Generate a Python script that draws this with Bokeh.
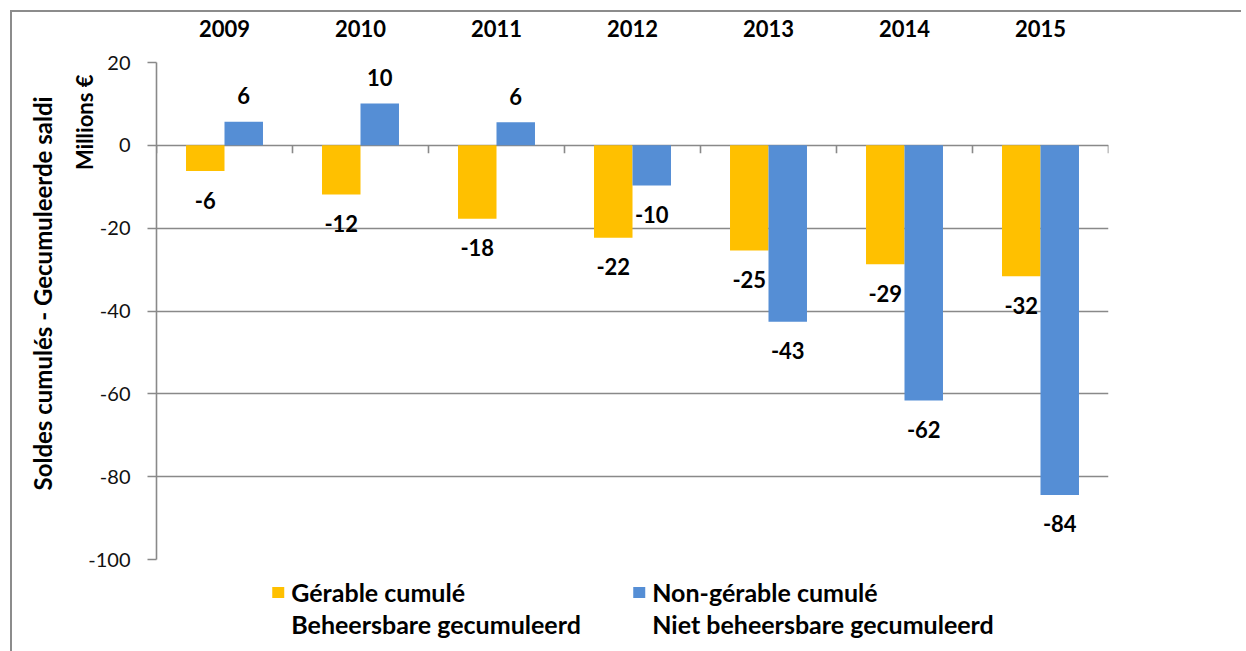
from bokeh.plotting import figure
from bokeh.models import (Range1d, FixedTicker, Legend, LegendItem, Title,
                          ColumnDataSource)
from bokeh.core.properties import value
from bokeh.embed import file_html
from bokeh.resources import INLINE

# ---- data ----
years = ["2009", "2010", "2011", "2012", "2013", "2014", "2015"]
gerable = [-6.2, -11.9, -17.7, -22.3, -25.4, -28.7, -31.6]
non_gerable = [5.7, 10.1, 5.6, -9.7, -42.6, -61.6, -84.4]
y_ticks = [-100, -80, -60, -40, -20, 0, 20]
legend_fr = ["Gérable cumulé", "Non-gérable cumulé"]
legend_nl = ["Beheersbare gecumuleerd", "Niet beheersbare gecumuleerd"]
y_title_outer = "Soldes cumulés - Gecumuleerde  saldi"
y_title_inner = "Millions €"

# ---- style ----
FONT = value("Lato")
colors = ["#FFC000", "#558ED5"]
GRID = "#898989"
FL, FT, FW, FH = 155, 62, 952, 497
BW = 0.283

n = len(years)
centers = [i + 0.5 for i in range(n)]

p = figure(frame_width=FW, frame_height=FH,
           x_range=Range1d(0, n), y_range=Range1d(-100, 20),
           output_backend="svg", toolbar_location=None, x_axis_location="above",
           min_border_left=FL, min_border_right=133,
           min_border_top=FT, min_border_bottom=80)
p.styles = {"box-shadow": "inset 10px 10px 0 0 #ffffff, inset 12px 12px 0 0 #8c8c8c"}
p.border_fill_color = None
p.background_fill_color = None
p.outline_line_color = None

# grid
p.xgrid.visible = False
p.ygrid.ticker = FixedTicker(ticks=y_ticks)
p.ygrid.grid_line_color = GRID
p.ygrid.grid_line_width = 1.6

# y axis
ya = p.yaxis[0]
ya.ticker = FixedTicker(ticks=y_ticks)
ya.major_label_overrides = {t: str(t) for t in y_ticks}
ya.axis_line_color = GRID
ya.axis_line_width = 1.6
ya.major_tick_line_color = GRID
ya.major_tick_line_width = 1.6
ya.major_tick_out = 9
ya.major_tick_in = 0
ya.minor_tick_line_color = None
ya.major_label_text_font = "Lato"
ya.major_label_text_font_size = "20px"
ya.major_label_text_color = "#111111"
ya.major_label_standoff = 17

# top x axis with years
xa = p.xaxis[0]
xa.ticker = FixedTicker(ticks=centers)
xa.major_label_overrides = {c: y for c, y in zip(centers, years)}
xa.axis_line_color = None
xa.major_tick_line_color = None
xa.major_tick_out = 0
xa.major_tick_in = 0
xa.minor_tick_line_color = None
xa.major_label_text_font = "Lato"
xa.major_label_text_font_style = "bold"
xa.major_label_text_font_size = "22px"
xa.major_label_text_color = "#000000"
xa.major_label_standoff = 26

# y titles
p.add_layout(Title(text=y_title_inner, align="right", offset=12, standoff=-25,
                   text_font="Lato", text_font_style="bold",
                   text_font_size="22px", text_color="#000000"), "left")
p.add_layout(Title(text=y_title_outer, align="right", offset=28, standoff=50,
                   text_font="Lato", text_font_style="bold",
                   text_font_size="24px", text_color="#000000"), "left")

# bars
src = ColumnDataSource(dict(
    xg=[c - BW / 2 for c in centers], xn=[c + BW / 2 for c in centers],
    g=gerable, ng=non_gerable,
    gl=[str(round(v)) for v in gerable], nl=[str(round(v)) for v in non_gerable],
    go=[-26 if v > 0 else 29 for v in gerable],
    no=[-26 if v > 0 else 29 for v in non_gerable],
))
r1 = p.vbar(x="xg", top="g", bottom=0, width=BW, source=src,
            fill_color=colors[0], line_color=None)
r2 = p.vbar(x="xn", top="ng", bottom=0, width=BW, source=src,
            fill_color=colors[1], line_color=None)
# invisible renderers for the second legend line
d1 = p.vbar(x="xg", top="g", bottom=0, width=BW, source=src,
            fill_alpha=0, line_alpha=0)
d2 = p.vbar(x="xn", top="ng", bottom=0, width=BW, source=src,
            fill_alpha=0, line_alpha=0)

# small category-boundary ticks on the zero line
px_per_unit = FH / 120.0
p.segment(x0=list(range(n + 1)), y0=[0] * (n + 1), x1=list(range(n + 1)),
          y1=[-8 / px_per_unit] * (n + 1), line_color=GRID, line_width=1.6)

# data labels
for xcol, ycol, lcol, ocol in (("xg", "g", "gl", "go"), ("xn", "ng", "nl", "no")):
    p.text(x=xcol, y=ycol, text=lcol, y_offset=ocol, source=src,
           text_align="center", text_baseline="middle",
           text_font=FONT, text_font_style="bold", text_font_size="22px",
           text_color="#000000")

# legend: 2 columns, French on first row, Dutch on second
legend = Legend(items=[LegendItem(label=legend_fr[0], renderers=[r1]),
                       LegendItem(label=legend_fr[1], renderers=[r2]),
                       LegendItem(label=legend_nl[0], renderers=[d1]),
                       LegendItem(label=legend_nl[1], renderers=[d2])],
                orientation="horizontal", ncols=2, location="top_center",
                title=" ", title_text_font_size="10px", title_standoff=6,
                glyph_width=15, glyph_height=14, label_standoff=6, spacing=0,
                label_width=340, label_height=32,
                padding=0, margin=0, border_line_color=None,
                background_fill_alpha=0,
                label_text_font="Lato", label_text_font_style="bold",
                label_text_font_size="25px", label_text_color="#000000")
p.add_layout(legend, "below")

open("out.html", "w").write(file_html(p, INLINE))
